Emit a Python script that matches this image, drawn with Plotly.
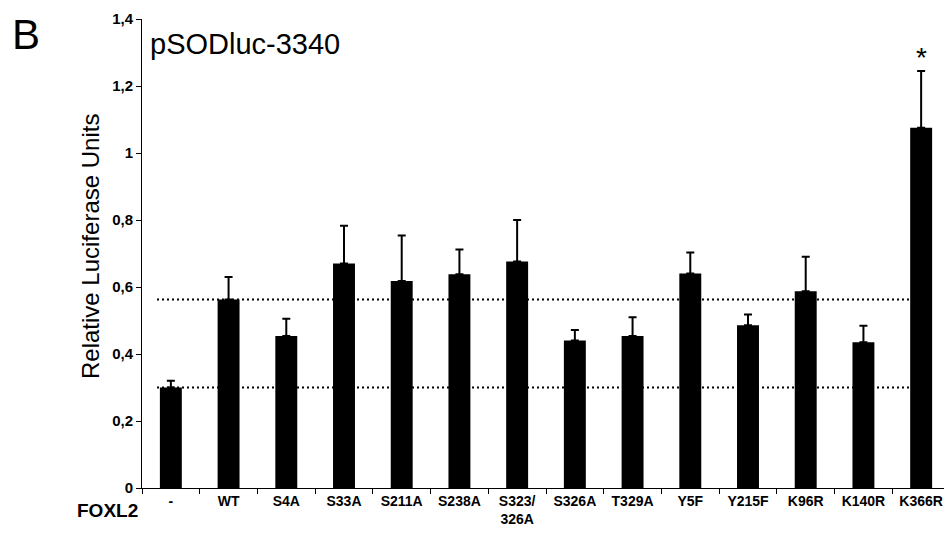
import plotly.graph_objects as go

# ---- data ----
categories = ["-", "WT", "S4A", "S33A", "S211A", "S238A", "S323/<br>326A",
              "S326A", "T329A", "Y5F", "Y215F", "K96R", "K140R", "K366R"]
values = [0.30, 0.563, 0.454, 0.670, 0.618, 0.638, 0.676,
          0.440, 0.454, 0.640, 0.486, 0.587, 0.435, 1.075]
errors = [0.020, 0.067, 0.051, 0.113, 0.136, 0.074, 0.124,
          0.032, 0.056, 0.063, 0.032, 0.103, 0.049, 0.170]
y_ticks = [0, 0.2, 0.4, 0.6, 0.8, 1.0, 1.2, 1.4]
y_tick_labels = ["0", "0,2", "0,4", "0,6", "0,8", "1", "1,2", "1,4"]
significant = ["K366R"]

FONT = "Liberation Sans, Arial, sans-serif"

fig = go.Figure()
fig.add_trace(go.Bar(
    x=categories, y=values,
    marker=dict(color="black", line=dict(width=0)),
    width=0.38,
    error_y=dict(type="data", array=errors, arrayminus=[0] * len(errors),
                 symmetric=False, color="black", thickness=2, width=4),
    showlegend=False,
))

# dotted reference lines at the "-" and WT levels
for ref in (values[0], values[1]):
    fig.add_shape(type="line", xref="x", yref="y",
                  x0=-0.24, x1=len(categories) - 1.19, y0=ref, y1=ref,
                  line=dict(color="black", width=2, dash="2px,3px"),
                  layer="below")

for cat in significant:
    i = categories.index(cat)
    fig.add_annotation(x=cat, y=values[i] + errors[i], xref="x", yref="y",
                       text="*", showarrow=False, yanchor="bottom", yshift=-4,
                       font=dict(family=FONT, size=28, color="black"))

# panel letter, title, axis labels
fig.add_annotation(x=-0.163, y=0.966, xref="paper", yref="paper", text="B",
                   showarrow=False, xanchor="left", yanchor="middle",
                   font=dict(family=FONT, size=42, color="black"))
fig.add_annotation(x=0.008, y=0.947, xref="paper", yref="paper", text="pSODluc-3340",
                   showarrow=False, xanchor="left", yanchor="middle",
                   font=dict(family=FONT, size=29, color="black"))
fig.add_annotation(x=-0.063, y=0.514, xref="paper", yref="paper",
                   text="Relative Luciferase Units", textangle=-90,
                   showarrow=False, xanchor="center", yanchor="middle",
                   font=dict(family=FONT, size=24, color="black"))
fig.add_annotation(x=-0.043, y=-0.047, xref="paper", yref="paper", text="FOXL2",
                   showarrow=False, xanchor="center", yanchor="middle",
                   font=dict(family=FONT, size=19, color="black", weight="bold"))

# page body has an 8px margin: figure is offset by (8, 8)
fig.update_layout(
    width=944, height=537,
    margin=dict(l=134, r=2, t=11, b=57),
    paper_bgcolor="white", plot_bgcolor="white",
    bargap=0.62,
)
fig.update_xaxes(
    type="category", range=[-0.5, len(categories) - 0.5],
    showline=True, linecolor="black", linewidth=1,
    ticks="outside", ticklen=5, tickcolor="black", tickwidth=1,
    tickson="boundaries", showgrid=False, zeroline=False,
    tickfont=dict(family=FONT, size=14, color="black", weight="bold"),
)
fig.update_yaxes(
    range=[0, 1.4], tickvals=y_ticks, ticktext=y_tick_labels,
    showline=True, linecolor="black", linewidth=1,
    ticks="outside", ticklen=5, tickcolor="black", tickwidth=1,
    showgrid=False, zeroline=False,
    tickfont=dict(family=FONT, size=15, color="black", weight="bold"),
)

fig.write_html("out.html")
